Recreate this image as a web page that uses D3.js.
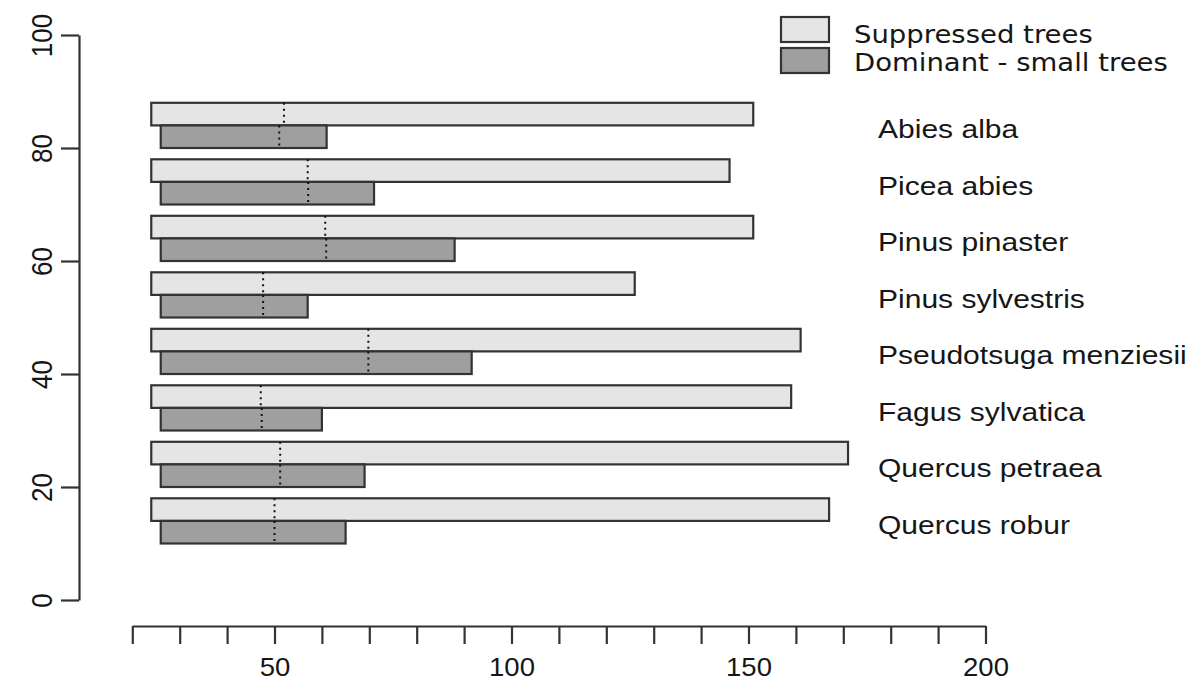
<!DOCTYPE html>
<html>
<head>
<meta charset="utf-8">
<script src="https://cdn.jsdelivr.net/npm/d3@7/dist/d3.min.js"></script>
<style>
  html, body { margin: 0; padding: 0; background: #fff; }
  svg { display: block; }
</style>
</head>
<body>
<svg id="chart" width="1197" height="695"></svg>
<script>
// ---- data ----
const species = ["Abies alba", "Picea abies", "Pinus pinaster", "Pinus sylvestris",
                 "Pseudotsuga menziesii", "Fagus sylvatica", "Quercus petraea", "Quercus robur"];
const rowCenter = [84, 74, 64, 54, 44, 34, 24, 14];
const suppressedStart = [24, 24, 24, 24, 24, 24, 24, 24];
const suppressedEnd   = [151, 146, 151, 126, 161, 159, 171, 167];
const suppressedMark  = [52, 57, 60.7, 47.6, 69.8, 47.1, 51.2, 50];
const dominantStart = [26, 26, 26, 26, 26, 26, 26, 26];
const dominantEnd   = [61, 71, 88, 57, 91.6, 60, 69, 65];
const dominantMark  = [51, 57.1, 60.9, 47.6, 69.8, 47.3, 51.2, 50];
const barHeight = 4;
const xTickValues = [20, 30, 40, 50, 60, 70, 80, 90, 100, 110, 120, 130, 140, 150, 160, 170, 180, 190, 200];
const xTickLabels = [50, 100, 150, 200];
const yTickValues = [0, 20, 40, 60, 80, 100];
const legendLabels = ["Suppressed trees", "Dominant - small trees"];

// ---- style ----
const lightFill = "#e5e5e5";
const darkFill = "#9f9f9f";
const edge = "#333";
const textCol = "#161616";
const stretch = 1.155;

const svg = d3.select("#chart");
const x = d3.scaleLinear().domain([20, 200]).range([132.3, 985.5]);
const y = d3.scaleLinear().domain([0, 100]).range([600, 35]);

// ---- x axis ----
const xAxis = svg.append("g")
  .attr("transform", "translate(0,626)")
  .call(d3.axisBottom(x).tickValues(xTickValues).tickSize(18).tickSizeOuter(0)
        .tickFormat(d => xTickLabels.includes(d) ? d : ""));
xAxis.select(".domain").attr("stroke", edge).attr("stroke-width", 2.2);
xAxis.selectAll(".tick line").attr("stroke", edge).attr("stroke-width", 2.2);
xAxis.selectAll(".tick text")
  .attr("font-family", "Liberation Sans, Arial, sans-serif")
  .attr("font-size", 25)
  .attr("fill", textCol)
  .attr("y", 0).attr("dy", 0)
  .attr("transform", "translate(0,50) scale(1.1,1)");

// ---- y axis ----
const yAxis = svg.append("g")
  .attr("transform", "translate(79,0)")
  .call(d3.axisLeft(y).tickValues(yTickValues).tickSize(18).tickSizeOuter(0).tickFormat(d => d));
yAxis.select(".domain").attr("stroke", edge).attr("stroke-width", 2.2);
yAxis.selectAll(".tick line").attr("stroke", edge).attr("stroke-width", 2.2);
yAxis.selectAll(".tick text")
  .attr("font-family", "Liberation Sans, Arial, sans-serif")
  .attr("font-size", 26)
  .attr("fill", textCol)
  .attr("x", 0).attr("dy", 0)
  .attr("text-anchor", "middle")
  .attr("transform", "translate(-27,0) rotate(-90) scale(1,1.1)");

// ---- bars ----
const rows = species.map((s, i) => ({
  name: s, c: rowCenter[i],
  s0: suppressedStart[i], s1: suppressedEnd[i], sm: suppressedMark[i],
  d0: dominantStart[i], d1: dominantEnd[i], dm: dominantMark[i]
}));

const g = svg.append("g");
g.selectAll("rect.supp").data(rows).join("rect")
  .attr("class", "supp")
  .attr("x", d => x(d.s0)).attr("width", d => x(d.s1) - x(d.s0))
  .attr("y", d => y(d.c + barHeight)).attr("height", d => y(d.c) - y(d.c + barHeight))
  .attr("fill", lightFill).attr("stroke", edge).attr("stroke-width", 2.2);

g.selectAll("rect.dom").data(rows).join("rect")
  .attr("class", "dom")
  .attr("x", d => x(d.d0)).attr("width", d => x(d.d1) - x(d.d0))
  .attr("y", d => y(d.c)).attr("height", d => y(d.c - barHeight) - y(d.c))
  .attr("fill", darkFill).attr("stroke", edge).attr("stroke-width", 2.2);

g.selectAll("line.smark").data(rows).join("line")
  .attr("class", "smark")
  .attr("x1", d => x(d.sm)).attr("x2", d => x(d.sm))
  .attr("y1", d => y(d.c + barHeight)).attr("y2", d => y(d.c))
  .attr("stroke", "#111").attr("stroke-width", 2).attr("stroke-dasharray", "2,4");

g.selectAll("line.dmark").data(rows).join("line")
  .attr("class", "dmark")
  .attr("x1", d => x(d.dm)).attr("x2", d => x(d.dm))
  .attr("y1", d => y(d.c)).attr("y2", d => y(d.c - barHeight))
  .attr("stroke", "#111").attr("stroke-width", 2).attr("stroke-dasharray", "2,4");

// ---- species labels ----
g.selectAll("text.sp").data(rows).join("text")
  .attr("class", "sp")
  .attr("transform", d => "translate(878," + (y(d.c) + 13) + ") scale(" + stretch + ",1)")
  .attr("font-family", "Liberation Sans, Arial, sans-serif")
  .attr("font-size", 26)
  .attr("fill", textCol)
  .text(d => d.name);

// ---- legend ----
const legend = svg.append("g");
const legendFills = [lightFill, darkFill];
const legendBoxY = [17, 48];
const legendTextY = [43, 71];
legendLabels.forEach((lab, i) => {
  legend.append("rect")
    .attr("x", 781).attr("y", legendBoxY[i]).attr("width", 48).attr("height", 25)
    .attr("fill", legendFills[i]).attr("stroke", edge).attr("stroke-width", 2.2);
  legend.append("text")
    .attr("transform", "translate(854," + legendTextY[i] + ") scale(1.1,1)")
    .attr("font-family", "DejaVu Sans, sans-serif")
    .attr("font-size", 25)
    .attr("fill", textCol)
    .text(lab);
});
</script>
</body>
</html>
